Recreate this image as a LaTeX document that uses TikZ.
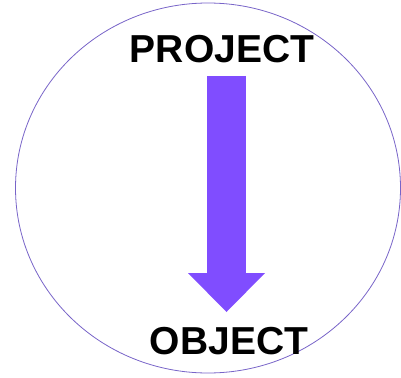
\documentclass[tikz,border=0pt]{standalone}
\usepackage{fontspec}
\setmainfont{Liberation Sans}
\usetikzlibrary{arrows.meta}

\definecolor{ringcol}{RGB}{120,100,200}
\definecolor{arrowcol}{RGB}{128,77,255}

\tikzset{
    word/.style={font=\fontsize{39}{39}\selectfont\bfseries, inner sep=0pt, anchor=base},
    bigarrow/.style={arrowcol, line width=39pt,
        -{Triangle[width=77pt,length=39pt,line width=0pt]}}
}

\begin{document}
\begin{tikzpicture}[x=1pt,y=-1pt]
    \useasboundingbox (0,0) rectangle (401,377);

    \draw[ringcol, line width=0.8pt] (208,188) ellipse [x radius=192.5, y radius=185];

    \node[word] (proj) at (222,63) {PROJECT};
    \node[word] (obj) at (229,354) {OBJECT};

    \coordinate (start) at (226.5,76);
    \coordinate (tip) at (226.5,312);
    \draw[bigarrow] (start) -- (tip);
\end{tikzpicture}
\end{document}
